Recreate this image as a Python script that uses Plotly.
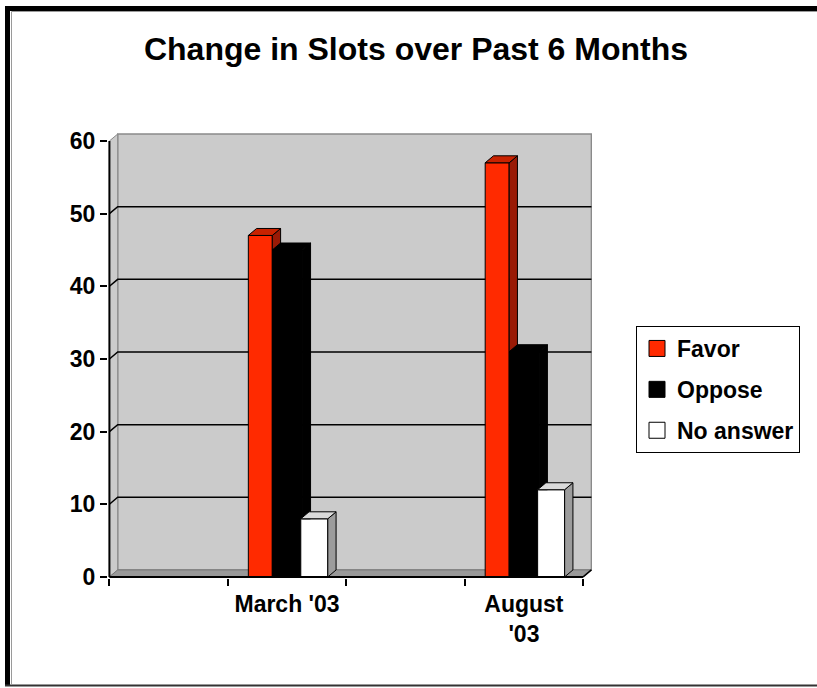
import plotly.graph_objects as go

# ---------------- data ----------------
categories = ["March '03", "August '03"]
tick_labels = ["March '03", "August<br>'03"]
series_names = ["Favor", "Oppose", "No answer"]
favor = [47, 57]
oppose = [45, 31]
no_answer = [8, 12]
y_ticks = [0, 10, 20, 30, 40, 50, 60]

series_values = [favor, oppose, no_answer]

# ---------------- style / layout ----------------
FONT = "Liberation Sans, Arial, sans-serif"
FRONT = ["#FF2A00", "#000000", "#FFFFFF"]
SIDE = ["#9A1A06", "#000000", "#9C9C9C"]
TOP = ["#C82200", "#000000", "#DADADA"]
OFFS = [-0.327, -0.1245, 0.116]     # left edge of each series' bar relative to slot centre
WIDTHS = [0.2025, 0.253, 0.228]
DX, DY = 0.07, 0.96                 # 3-D depth offsets (axis units)
N_SLOTS = 2 * len(categories)
centers = [2 * i + 1.5 for i in range(len(categories))]
YMAX = y_ticks[-1]

L_PX, R_PX, T_PX, B_PX = 108, 592, 133, 578
W, H = 817, 688


def px(xp):
    return (xp - L_PX) / (R_PX - L_PX)


def py(yp):
    return (B_PX - yp) / (B_PX - T_PX)


def path(pts, close=True):
    s = "M " + " L ".join(f"{x:.5f},{y:.5f}" for x, y in pts)
    return s + (" Z" if close else "")


def clip_above(pts, cut):
    out = []
    n = len(pts)
    for i in range(n):
        a, b = pts[i], pts[(i + 1) % n]
        ain, bin_ = a[1] >= cut, b[1] >= cut
        if ain:
            out.append(a)
        if ain != bin_:
            t = (cut - a[1]) / (b[1] - a[1])
            out.append((a[0] + t * (b[0] - a[0]), cut))
    return out


fig = go.Figure()

# front faces of the bars
for s, name in enumerate(series_names):
    fig.add_trace(go.Bar(
        x=centers, y=series_values[s], offset=OFFS[s], width=WIDTHS[s],
        marker=dict(color=FRONT[s], line=dict(color="black", width=1)),
        name=name, showlegend=False,
    ))

# legend proxies
for s, name in enumerate(series_names):
    fig.add_trace(go.Scatter(
        x=[None], y=[None], mode="markers", name=name, legendgroup=f"g{s}",
        marker=dict(symbol="square", size=16, color=FRONT[s],
                    line=dict(color="black", width=1)),
    ))

shapes = []
WALL = "#CBCBCB"
EDGE = "#8A8A8A"
# back wall
shapes.append(dict(type="rect", xref="x", yref="y", layer="below",
                   x0=DX, x1=N_SLOTS + DX, y0=DY, y1=YMAX + DY,
                   fillcolor=WALL, line=dict(color=EDGE, width=1.5)))
# left wall
shapes.append(dict(type="path", xref="x", yref="y", layer="below",
                   path=path([(0, 0), (DX, DY), (DX, YMAX + DY), (0, YMAX)]),
                   fillcolor=WALL, line=dict(color=EDGE, width=1)))
# floor
shapes.append(dict(type="path", xref="x", yref="y", layer="below",
                   path=path([(0, 0), (N_SLOTS, 0), (N_SLOTS + DX, DY), (DX, DY)]),
                   fillcolor="#999999", line=dict(color="#777777", width=1)))
# gridlines
for v in y_ticks[1:-1]:
    shapes.append(dict(type="path", xref="x", yref="y", layer="below",
                       path=path([(0, v), (DX, v + DY), (N_SLOTS + DX, v + DY)], close=False),
                       line=dict(color="black", width=1.5)))

# 3-D side and top faces
n_ser = len(series_names)
for c in range(len(categories)):
    for s in range(n_ser):
        V = series_values[s][c]
        left = centers[c] + OFFS[s]
        right = left + WIDTHS[s]
        side = [(right, 0), (right + DX, DY), (right + DX, V + DY), (right, V)]
        if s + 1 < n_ser:
            nleft = centers[c] + OFFS[s + 1]
            if nleft <= right + 1e-9:
                side = clip_above(side, series_values[s + 1][c])
        if len(side) >= 3:
            shapes.append(dict(type="path", xref="x", yref="y", layer="above",
                               path=path(side), fillcolor=SIDE[s],
                               line=dict(color="black", width=1)))
        top = [(left, V), (left + DX, V + DY), (right + DX, V + DY), (right, V)]
        shapes.append(dict(type="path", xref="x", yref="y", layer="above",
                           path=path(top), fillcolor=TOP[s],
                           line=dict(color="black", width=1)))

# axis lines
shapes.append(dict(type="line", xref="x", yref="y", layer="above",
                   x0=0, x1=0, y0=0, y1=YMAX, line=dict(color="black", width=2)))
shapes.append(dict(type="line", xref="x", yref="y", layer="above",
                   x0=0, x1=N_SLOTS, y0=0, y1=0, line=dict(color="black", width=2)))
shapes.append(dict(type="line", xref="x", yref="y", layer="above",
                   x0=N_SLOTS, x1=N_SLOTS + DX, y0=0, y1=DY, line=dict(color="black", width=1.5)))

# picture frame
shapes.append(dict(type="line", xref="paper", yref="paper",
                   x0=px(7.5), x1=px(W + 20), y0=py(8.5), y1=py(8.5),
                   line=dict(color="black", width=5)))
shapes.append(dict(type="line", xref="paper", yref="paper",
                   x0=px(7.5), x1=px(7.5), y0=py(6), y1=py(685),
                   line=dict(color="black", width=5)))
shapes.append(dict(type="line", xref="paper", yref="paper",
                   x0=px(11.5), x1=px(W + 20), y0=py(11.5), y1=py(11.5),
                   line=dict(color="#9A9A9A", width=1)))
shapes.append(dict(type="line", xref="paper", yref="paper",
                   x0=px(11.5), x1=px(11.5), y0=py(11.5), y1=py(684),
                   line=dict(color="#9A9A9A", width=1)))
shapes.append(dict(type="line", xref="paper", yref="paper",
                   x0=px(5), x1=px(W + 20), y0=py(685.5), y1=py(685.5),
                   line=dict(color="#333333", width=2)))

tick_font = dict(family=FONT, size=23, color="black", weight="bold")

fig.update_layout(
    width=W, height=H,
    margin=dict(l=L_PX, r=W - R_PX, t=T_PX, b=H - B_PX, autoexpand=False),
    paper_bgcolor="white", plot_bgcolor="white",
    barmode="overlay",
    title=dict(text="Change in Slots over Past 6 Months",
               font=dict(family=FONT, size=32, color="black", weight="bold"),
               x=px(416), xref="paper", xanchor="center",
               y=1 - 49 / H, yref="container", yanchor="middle"),
    xaxis=dict(range=[-0.012, 4.075], tickmode="array", tickvals=centers,
               ticktext=tick_labels, ticks="", showgrid=False, zeroline=False,
               showline=False, tickfont=tick_font, fixedrange=True,
               ticklabelstandoff=10,
               minor=dict(tickmode="array", tickvals=list(range(N_SLOTS + 1)),
                          ticks="outside", ticklen=7, tickwidth=1.5,
                          tickcolor="black", showgrid=False)),
    yaxis=dict(range=[-0.15, 61.1], tickmode="array", tickvals=y_ticks,
               ticks="outside", ticklen=7, tickwidth=1.5, tickcolor="black",
               showgrid=False, zeroline=False, showline=False,
               tickfont=tick_font, fixedrange=True),
    legend=dict(x=px(636), xanchor="left", y=py(326), yanchor="top",
                bgcolor="white", bordercolor="black", borderwidth=1,
                font=dict(family=FONT, size=23, color="black", weight="bold"),
                entrywidth=132, entrywidthmode="pixels",
                tracegroupgap=8, itemclick=False, itemdoubleclick=False),
    shapes=shapes,
    showlegend=True,
)

fig.write_html("out.html", config={"displayModeBar": False},
               post_script="document.body.style.margin='0';")
